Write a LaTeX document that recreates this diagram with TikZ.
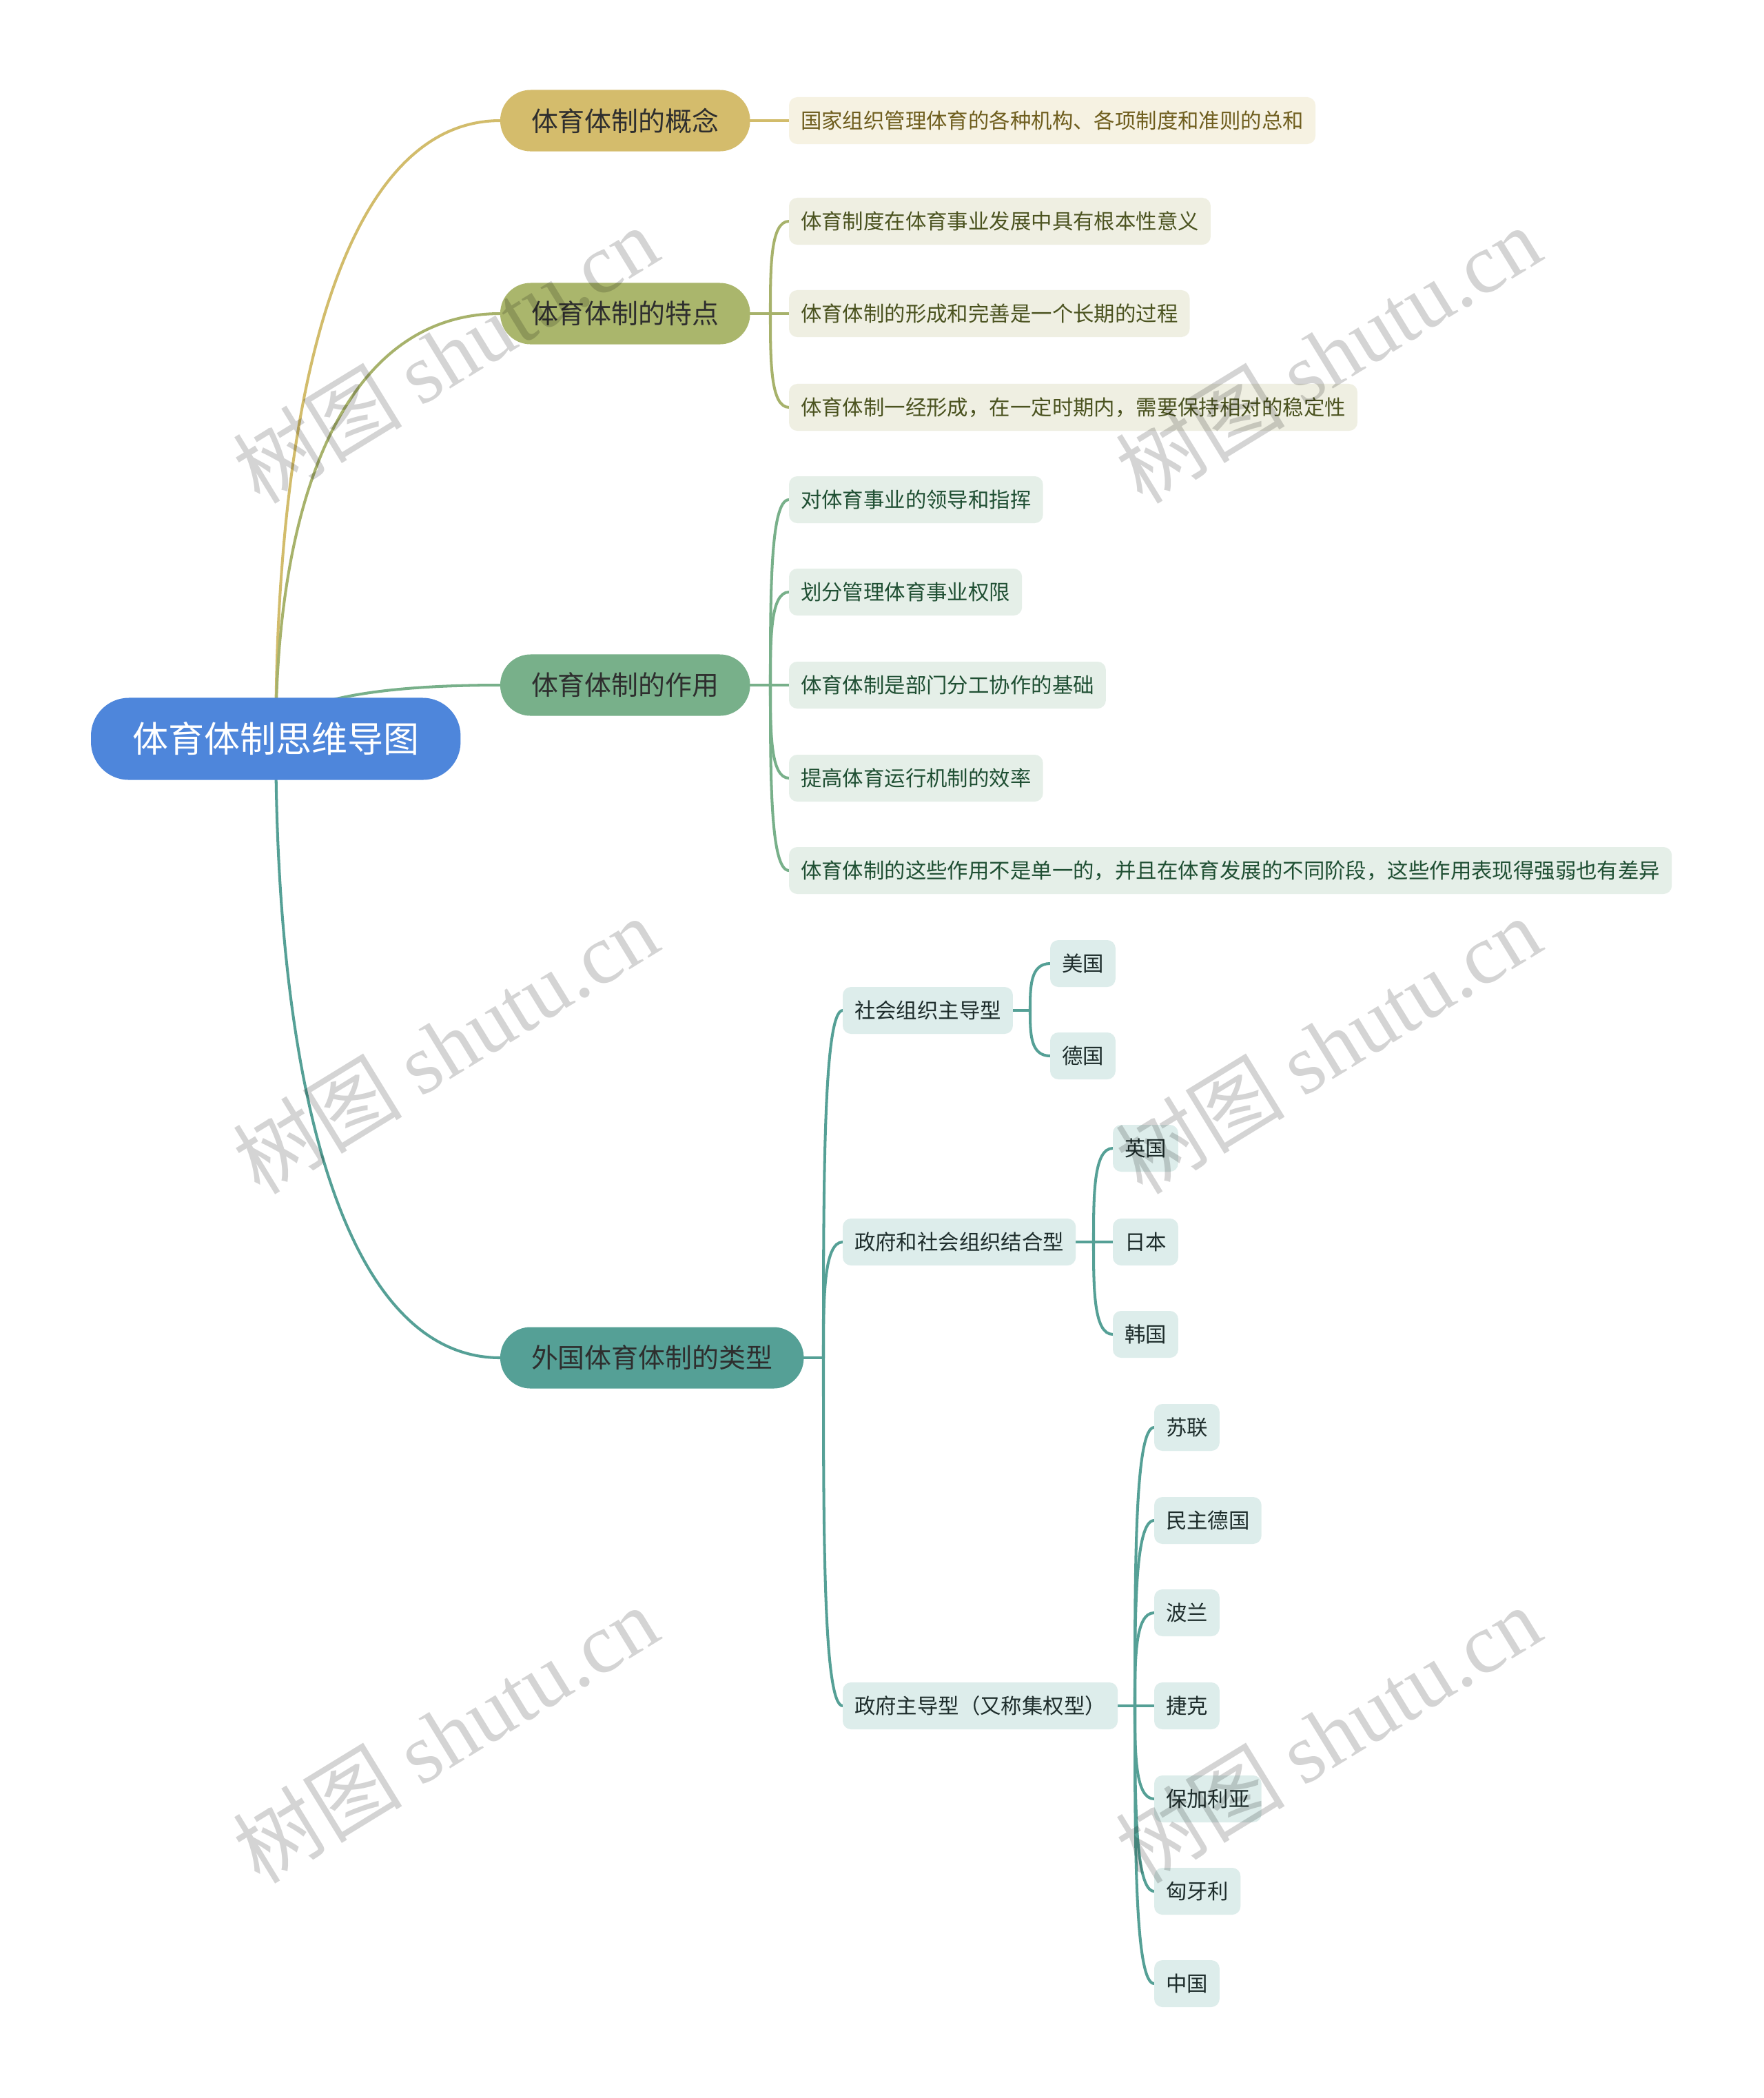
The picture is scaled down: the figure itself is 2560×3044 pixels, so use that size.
\documentclass[tikz,border=0pt]{standalone}
\usepackage{fontspec}
\setmainfont{Noto Sans CJK SC}
\newfontfamily\wmlatin{Liberation Serif}
\usetikzlibrary{calc}
\definecolor{rootc}{HTML}{4E86DB}
\definecolor{ca}{HTML}{D4BC6C}
\definecolor{cb}{HTML}{AAB66C}
\definecolor{cc}{HTML}{78B08A}
\definecolor{cd}{HTML}{55A096}
\definecolor{la}{HTML}{D2BC6B}
\definecolor{lb}{HTML}{A7B26B}
\definecolor{lc}{HTML}{78B08A}
\definecolor{ld}{HTML}{55A096}
\definecolor{fa}{HTML}{F6F2E2}
\definecolor{fb}{HTML}{EFEFE2}
\definecolor{fc}{HTML}{E5EFE8}
\definecolor{fd}{HTML}{DDEDEB}
\definecolor{ta}{HTML}{6F5E1E}
\definecolor{tb}{HTML}{4B5320}
\definecolor{tc}{HTML}{1F4F33}
\definecolor{td}{HTML}{1E2D2C}
\definecolor{lvltext}{HTML}{2E2E2E}
\pgfdeclarelayer{bg}
\pgfsetlayers{bg,main}
\begin{document}
\begin{tikzpicture}[x=0.01cm,y=-0.01cm,
  every node/.style={inner sep=0pt, outer sep=0pt},
  rootbox/.style={fill=rootc, text=white, rounded corners=0.55cm, minimum height=1.19cm, inner xsep=0.6cm, font=\fontsize{14.8pt}{16pt}\selectfont, anchor=west},
  lvlone/.style={rounded corners=0.44cm, minimum height=0.89cm, inner xsep=0.45cm, font=\fontsize{11.07pt}{13pt}\selectfont, text=lvltext, anchor=west},
  leaf/.style={rounded corners=0.12cm, minimum height=0.68cm, inner xsep=0.17cm, font=\fontsize{8.65pt}{10pt}\selectfont, anchor=west},
  leafa/.style={leaf, fill=fa, text=ta},
  leafb/.style={leaf, fill=fb, text=tb},
  leafc/.style={leaf, fill=fc, text=tc},
  leafd/.style={leaf, fill=fd, text=td},
  edge/.style={line width=1.15pt, line cap=round},
  mainlink/.style={to path={.. controls ($(\tikztostart)!0.56!(\tikztostart|-\tikztotarget)$) and ($(\tikztotarget)!0.7!(\tikztotarget-|\tikztostart)$) .. (\tikztotarget)}},
  sublink/.style={to path={.. controls ($(\tikztostart)!0.5!(\tikztostart|-\tikztotarget)$) and (\tikztostart|-\tikztotarget) .. (\tikztotarget)}},
  wm/.style={text=black, opacity=0.17, rotate=31.5, font=\fontsize{35pt}{40pt}\selectfont}
]
\useasboundingbox (0,0) rectangle (2560,3044);

% root and level one
\node[rootbox] (root) at (132,1072) {体育体制思维导图};
\node[lvlone, fill=ca] (n1) at (726,175) {体育体制的概念};
\node[lvlone, fill=cb] (n2) at (726,455) {体育体制的特点};
\node[lvlone, fill=cc] (n3) at (726,994) {体育体制的作用};
\node[lvlone, fill=cd] (n4) at (726,1970) {外国体育体制的类型};

% leaves of n1
\node[leafa] (a1) at (1145,175) {国家组织管理体育的各种机构、各项制度和准则的总和};
% leaves of n2
\node[leafb] (b1) at (1145,321) {体育制度在体育事业发展中具有根本性意义};
\node[leafb] (b2) at (1145,455) {体育体制的形成和完善是一个长期的过程};
\node[leafb] (b3) at (1145,591) {体育体制一经形成，在一定时期内，需要保持相对的稳定性};
% leaves of n3
\node[leafc] (c1) at (1145,725) {对体育事业的领导和指挥};
\node[leafc] (c2) at (1145,859) {划分管理体育事业权限};
\node[leafc] (c3) at (1145,994) {体育体制是部门分工协作的基础};
\node[leafc] (c4) at (1145,1129) {提高体育运行机制的效率};
\node[leafc] (c5) at (1145,1263) {体育体制的这些作用不是单一的，并且在体育发展的不同阶段，这些作用表现得强弱也有差异};
% children of n4
\node[leafd] (d1) at (1223,1466) {社会组织主导型};
\node[leafd] (d2) at (1223,1802) {政府和社会组织结合型};
\node[leafd] (d3) at (1223,2475) {政府主导型（又称集权型）};
% level three
\node[leafd] (e1) at (1524,1398) {美国};
\node[leafd] (e2) at (1524,1532) {德国};
\node[leafd] (f1) at (1615,1666) {英国};
\node[leafd] (f2) at (1615,1802) {日本};
\node[leafd] (f3) at (1615,1936) {韩国};
\node[leafd] (g1) at (1675,2071) {苏联};
\node[leafd] (g2) at (1675,2206) {民主德国};
\node[leafd] (g3) at (1675,2340) {波兰};
\node[leafd] (g4) at (1675,2475) {捷克};
\node[leafd] (g5) at (1675,2610) {保加利亚};
\node[leafd] (g6) at (1675,2744) {匈牙利};
\node[leafd] (g7) at (1675,2878) {中国};

% junctions
\coordinate (j2) at (1118,455);
\coordinate (j3) at (1118,994);
\coordinate (j4) at (1195,1970);
\coordinate (jd1) at (1495,1466);
\coordinate (jd2) at (1587,1802);
\coordinate (jd3) at (1647,2475);

\begin{pgfonlayer}{bg}
  \fill[white] (0,0) rectangle (2560,3044);
  \draw[edge, la] (root.center) to[mainlink] (n1.west);
  \draw[edge, lb] (root.center) to[mainlink] (n2.west);
  \draw[edge, lc] (root.center) to[mainlink] (n3.west);
  \draw[edge, ld] (root.center) to[mainlink] (n4.west);
  % n1
  \draw[edge, la] (n1.east) -- (a1.west);
  % n2
  \draw[edge, lb] (n2.east) -- (j2);
  \foreach \t in {b1,b2,b3} \draw[edge, lb] (j2) to[sublink] (\t.west);
  % n3
  \draw[edge, lc] (n3.east) -- (j3);
  \foreach \t in {c1,c2,c3,c4,c5} \draw[edge, lc] (j3) to[sublink] (\t.west);
  % n4
  \draw[edge, ld] (n4.east) -- (j4);
  \foreach \t in {d1,d2,d3} \draw[edge, ld] (j4) to[sublink] (\t.west);
  \draw[edge, ld] (d1.east) -- (jd1);
  \foreach \t in {e1,e2} \draw[edge, ld] (jd1) to[sublink] (\t.west);
  \draw[edge, ld] (d2.east) -- (jd2);
  \foreach \t in {f1,f2,f3} \draw[edge, ld] (jd2) to[sublink] (\t.west);
  \draw[edge, ld] (d3.east) -- (jd3);
  \foreach \t in {g1,g2,g3,g4,g5,g6,g7} \draw[edge, ld] (jd3) to[sublink] (\t.west);
\end{pgfonlayer}

% watermarks
\node[wm] (w1) at (646,514) {树图 {\wmlatin shutu.cn}};
\node[wm] (w2) at (1927,514) {树图 {\wmlatin shutu.cn}};
\node[wm] (w3) at (646,1516) {树图 {\wmlatin shutu.cn}};
\node[wm] (w4) at (1927,1516) {树图 {\wmlatin shutu.cn}};
\node[wm] (w5) at (646,2516) {树图 {\wmlatin shutu.cn}};
\node[wm] (w6) at (1927,2516) {树图 {\wmlatin shutu.cn}};
\end{tikzpicture}
\end{document}
